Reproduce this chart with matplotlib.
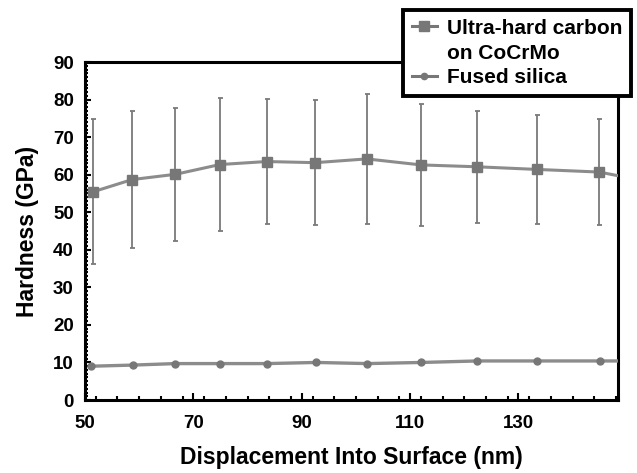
import matplotlib
matplotlib.use("Agg")
import matplotlib.pyplot as plt
from matplotlib.lines import Line2D
from matplotlib.ticker import MultipleLocator

# ---- data ----
disp_carbon = [51.4, 58.7, 66.7, 74.9, 83.5, 92.5, 102.0, 112.0, 122.4, 133.4, 144.9, 157.0]
hard_carbon = [55.4, 58.7, 60.1, 62.7, 63.5, 63.2, 64.2, 62.6, 62.1, 61.4, 60.7, 57.3]
err_carbon = [19.3, 18.2, 17.7, 17.6, 16.7, 16.7, 17.3, 16.2, 14.9, 14.6, 14.0, 13.5]

disp_silica = [51.1, 58.8, 66.7, 74.9, 83.5, 92.7, 102.1, 112.1, 122.4, 133.5, 145.1, 157.0]
hard_silica = [9.0, 9.3, 9.7, 9.7, 9.7, 10.0, 9.7, 10.0, 10.4, 10.4, 10.4, 10.4]

xticks = [50, 70, 90, 110, 130]
yticks = [0, 10, 20, 30, 40, 50, 60, 70, 80, 90]

label_carbon = "Ultra-hard carbon"
label_carbon2 = "on CoCrMo"
label_silica = "Fused silica"

plt.rcParams['font.family'] = ['Liberation Sans', 'DejaVu Sans']
plt.rcParams['font.weight'] = 'bold'

fig = plt.figure(figsize=(6.37, 4.73), dpi=100)
ax = fig.add_axes([0.1334, 0.1543, 0.9696 - 0.1334, 0.8689 - 0.1543])

line_col = '#8c8c8c'
mark_col = '#777777'

ax.errorbar(disp_carbon, hard_carbon, yerr=err_carbon, color=line_col, lw=2.2,
            marker='s', ms=6.5, mfc=mark_col, mec=mark_col,
            ecolor='#7a7a7a', elinewidth=1.3, capsize=1.8, capthick=1.3, zorder=3)
ax.plot(disp_silica, hard_silica, color=line_col, lw=2.4, marker='o', ms=5,
        mfc=mark_col, mec=mark_col, zorder=3)

ax.set_xlim(50, 148.3)
ax.set_ylim(0, 90)
ax.set_xticks(xticks)
ax.set_yticks(yticks)
ax.xaxis.set_minor_locator(MultipleLocator(4))
ax.yaxis.set_minor_locator(MultipleLocator(1))
ax.tick_params(axis='both', which='both', direction='in', top=False, right=False,
               labelsize=13.5, width=1.5, color='black')
ax.tick_params(axis='x', which='major', length=5, pad=11)
ax.tick_params(axis='x', which='minor', length=3)
ax.tick_params(axis='y', which='major', length=4, pad=8)
ax.tick_params(axis='y', which='minor', length=2.5)
for lab in ax.get_xticklabels() + ax.get_yticklabels():
    lab.set_fontweight('bold')

for s in ax.spines.values():
    s.set_linewidth(2.2)
    s.set_color('black')

ax.set_xlabel("Displacement Into Surface (nm)", fontsize=16.5, fontweight='bold', labelpad=10)
ax.set_ylabel("Hardness (GPa)", fontsize=16.5, fontweight='bold', labelpad=10)

h1 = Line2D([], [], color=mark_col, marker='s', ms=6.5, lw=2.2)
h2 = Line2D([], [], color='none', lw=0)
h3 = Line2D([], [], color=mark_col, marker='o', ms=4.5, lw=2.2)
leg = fig.legend([h1, h2, h3], [label_carbon, label_carbon2, label_silica],
                 loc='upper left', bbox_to_anchor=(403 / 637, 1 - 10 / 473),
                 frameon=True, fancybox=False, framealpha=1,
                 prop={'weight': 'bold', 'size': 15},
                 handlelength=1.2, handletextpad=0.5, labelspacing=0.28,
                 borderpad=0.42, borderaxespad=0)
leg.get_frame().set_edgecolor('black')
leg.get_frame().set_linewidth(2.8)
leg.set_zorder(10)

fig.savefig("out.png", dpi=100)
